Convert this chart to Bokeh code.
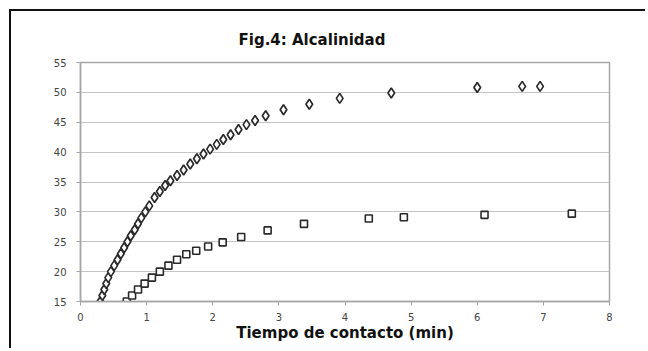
from bokeh.plotting import figure
from bokeh.models import FixedTicker, Range1d
from bokeh.embed import file_html
from bokeh.resources import INLINE

title_text = "Fig.4: Alcalinidad"
x_label = "Tiempo de contacto (min)"

x_ticks = [0, 1, 2, 3, 4, 5, 6, 7, 8]
y_ticks = [15, 20, 25, 30, 35, 40, 45, 50, 55]

# Series 1 (diamonds)
diam_x = [0.30, 0.33, 0.36, 0.39, 0.42, 0.46, 0.51, 0.56, 0.61, 0.66, 0.71, 0.76,
          0.82, 0.87, 0.92, 0.98, 1.04, 1.12, 1.20, 1.28, 1.36, 1.46, 1.56, 1.66,
          1.76, 1.86, 1.96, 2.06, 2.16, 2.27, 2.39, 2.51, 2.64, 2.80, 3.07, 3.46,
          3.92, 4.70, 6.00, 6.68, 6.95]
diam_y = [15, 16, 17, 18, 19, 20, 21, 22, 23, 24, 25, 26, 27, 28, 29, 30, 31,
          32.4, 33.4, 34.4, 35.2, 36.1, 37.0, 38.0, 38.9, 39.7, 40.5, 41.3, 42.1,
          42.9, 43.8, 44.6, 45.3, 46.1, 47.1, 48.0, 49.0, 49.9, 50.8, 51.0, 51.0]

# Series 2 (squares)
sq_x = [0.70, 0.78, 0.87, 0.97, 1.08, 1.20, 1.33, 1.46, 1.60, 1.75, 1.93, 2.15,
        2.43, 2.83, 3.38, 4.36, 4.89, 6.11, 7.43]
sq_y = [15, 16, 17, 18, 19, 20, 21, 22, 22.9, 23.5, 24.2, 24.9, 25.8, 26.9,
        28.0, 28.9, 29.1, 29.5, 29.7]

p = figure(width=636, height=339, output_backend="svg", toolbar_location=None,
           x_range=Range1d(0, 8), y_range=Range1d(15, 55),
           min_border_left=69, min_border_right=38, min_border_top=51,
           min_border_bottom=49, title=title_text)
p.styles = {"margin": "9px 0 0 9px",
            "border-top": "2px solid #111111", "border-left": "2px solid #111111"}

p.title.text_font = "DejaVu Sans"
p.title.text_font_size = "15px"
p.title.text_font_style = "bold"
p.title.text_color = "#111111"
p.title.align = "left"
p.title.offset = 158
p.title.standoff = 28

p.outline_line_color = "#a6a6a6"
p.outline_line_width = 1.5
p.background_fill_color = "white"
p.border_fill_color = "white"

p.xgrid.visible = False
p.ygrid.grid_line_color = "#c4c4c4"
p.ygrid.grid_line_width = 1
p.ygrid.ticker = FixedTicker(ticks=y_ticks)

p.xaxis.ticker = FixedTicker(ticks=x_ticks)
p.yaxis.ticker = FixedTicker(ticks=y_ticks)
for ax in (p.xaxis[0], p.yaxis[0]):
    ax.axis_line_color = "#a6a6a6"
    ax.axis_line_width = 1.5
    ax.major_tick_line_color = "#a6a6a6"
    ax.major_tick_in = 0
    ax.major_tick_out = 4
    ax.minor_tick_line_color = None
    ax.major_label_text_font = "DejaVu Sans"
    ax.major_label_text_font_size = "10px"
    ax.major_label_text_color = "#444444"

p.yaxis.major_label_standoff = 10
p.xaxis.major_label_standoff = 7
p.xaxis.axis_label = x_label
p.xaxis.axis_label_text_font = "DejaVu Sans"
p.xaxis.axis_label_text_font_size = "15px"
p.xaxis.axis_label_text_font_style = "bold"
p.xaxis.axis_label_text_color = "#111111"
p.xaxis.axis_label_standoff = 0

p.scatter(diam_x, diam_y, marker="diamond", size=10, fill_color="white",
          line_color="#2a2a2a", line_width=1.7)
p.scatter(sq_x, sq_y, marker="square", size=7, fill_color="white",
          line_color="#2a2a2a", line_width=1.6)

open("out.html", "w").write(file_html(p, INLINE))
